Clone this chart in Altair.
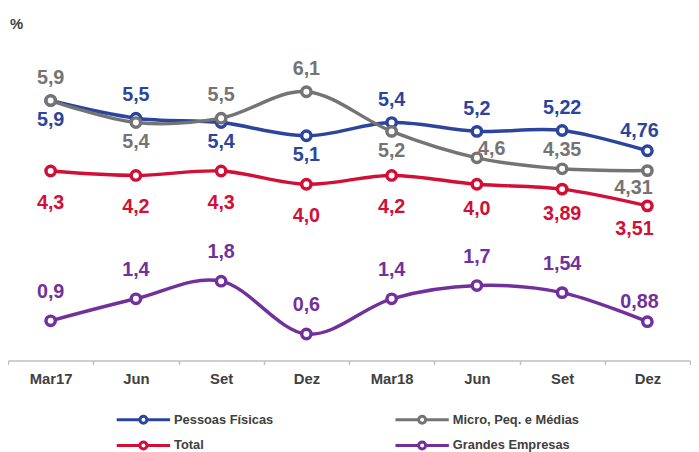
import altair as alt
import pandas as pd

# ---- data ----
categories = ["Mar17", "Jun17", "Set17", "Dez17", "Mar18", "Jun18", "Set18", "Dez18"]
tick_labels = ["Mar17", "Jun", "Set", "Dez", "Mar18", "Jun", "Set", "Dez"]
series_names = ["Pessoas Físicas", "Micro, Peq. e Médias", "Total", "Grandes Empresas"]
pessoas_fisicas = [5.9, 5.5, 5.4, 5.1, 5.4, 5.2, 5.22, 4.76]
micro_peq_medias = [5.9, 5.4, 5.5, 6.1, 5.2, 4.6, 4.35, 4.31]
total = [4.3, 4.2, 4.3, 4.0, 4.2, 4.0, 3.89, 3.51]
grandes_empresas = [0.9, 1.4, 1.8, 0.6, 1.4, 1.7, 1.54, 0.88]

# ---- style ----
legend_order = ["Pessoas Físicas", "Total", "Micro, Peq. e Médias", "Grandes Empresas"]
legend_colors = ["#2B459E", "#D20F37", "#747474", "#71309B"]
label_pos = [
    ["below", "above", "below", "below", "above", "above", "above", "above_left"],
    ["above", "below", "above", "above", "below", "upper_right", "above_near", "below_left"],
    ["below_far", "below_far", "below_far", "below_far", "below_far", "below_mid", "below_mid", "below_left_mid"],
    ["above_far", "above_far", "above_far", "above_far", "above_far", "above_far", "above_far", "above_left"],
]
pos_offsets = {
    "above": (0, -23),
    "above_near": (0, -19),
    "above_far": (0, -29),
    "above_left": (-8, -20),
    "below": (0, 20),
    "below_mid": (0, 25),
    "below_far": (0, 32),
    "below_left": (-14, 18),
    "below_left_mid": (-13, 23),
    "upper_right": (15, -9),
}
FONT = "Liberation Sans"
TEXT_GREY = "#404040"


def fmt(v):
    s = f"{v:.2f}"
    if s.endswith("0"):
        s = s[:-1]
    return s.replace(".", ",")


rows = []
for si, (name, vals) in enumerate(zip(series_names, [pessoas_fisicas, micro_peq_medias, total, grandes_empresas])):
    for ci, (cat, v) in enumerate(zip(categories, vals)):
        rows.append({
            "cat": cat, "series": name, "order": si, "value": v,
            "label": fmt(v), "pos": label_pos[si][ci],
        })
df = pd.DataFrame(rows)

label_expr = "[" + ",".join(f"'{t}'" for t in tick_labels) + "][indexof([" + \
    ",".join(f"'{c}'" for c in categories) + "], datum.value)]"

x_enc = alt.X(
    "cat:N", sort=categories,
    scale=alt.Scale(paddingInner=0, paddingOuter=0),
    axis=alt.Axis(
        title=None, labelExpr=label_expr, labelAngle=0,
        labelFont=FONT, labelFontSize=15, labelFontWeight="bold", labelColor=TEXT_GREY,
        domainColor="#BFBFBF", domainWidth=1.5, tickColor="#BFBFBF", tickWidth=1.5,
        tickSize=4, tickBand="extent", labelPadding=7,
    ),
)
y_enc = alt.Y("value:Q", scale=alt.Scale(domain=[0, 7], nice=False, zero=True), axis=None)
color_scale = alt.Scale(domain=legend_order, range=legend_colors)

# line + open ring (ring drawn twice in opposite directions so it is not filled)
sym_path = ("M-1,0L-0.13,0M0.13,0L1,0"
            "M0.13,0A0.13,0.13,0,1,1,-0.13,0A0.13,0.13,0,1,1,0.13,0Z"
            "M0.13,0A0.13,0.13,0,1,0,-0.13,0A0.13,0.13,0,1,0,0.13,0Z")

legend = alt.Legend(
    title=None, orient="none", legendX=108.5, legendY=365, columns=2,
    symbolType=sym_path, symbolSize=2916, symbolStrokeWidth=3,
    symbolFillColor="white", symbolOffset=0,
    labelFont=FONT, labelFontSize=13, labelFontWeight="bold", labelColor=TEXT_GREY,
    labelOffset=2.5, labelLimit=300, rowPadding=12, columnPadding=122,
    clipHeight=14, padding=0,
)

base = alt.Chart(df)

lines = base.mark_line(interpolate="cardinal", strokeWidth=3.5).encode(
    x=x_enc, y=y_enc,
    color=alt.Color("series:N", scale=color_scale, legend=legend),
    detail=alt.Detail("order:O"),
)

points = base.mark_point(filled=False, fill="white", fillOpacity=1, size=90,
                         strokeWidth=3.5, opacity=1, shape="circle").encode(
    x=x_enc, y=y_enc,
    color=alt.Color("series:N", scale=color_scale, legend=legend),
)

text_layers = []
for pos_name, (dx, dy) in pos_offsets.items():
    text_layers.append(
        base.transform_filter(alt.datum.pos == pos_name).mark_text(
            font=FONT, fontSize=20, fontWeight="bold",
            align="center", baseline="middle", dx=dx, dy=dy,
        ).encode(
            x=x_enc, y=y_enc,
            text="label:N",
            color=alt.Color("series:N", scale=color_scale, legend=None),
        )
    )

chart = alt.layer(lines, points, *text_layers).properties(
    width=690, height=312,
    padding={"left": 0, "top": 42, "right": 1, "bottom": 90},
    autosize=alt.AutoSizeParams(type="none"),
    title=alt.TitleParams(
        "%", anchor="start", frame="group", offset=8, baseline="alphabetic", dx=2,
        font=FONT, fontSize=15, fontWeight="bold", color=TEXT_GREY,
    ),
).configure_view(stroke=None)

chart.save("out.html", embed_options={"renderer": "svg", "actions": False})
